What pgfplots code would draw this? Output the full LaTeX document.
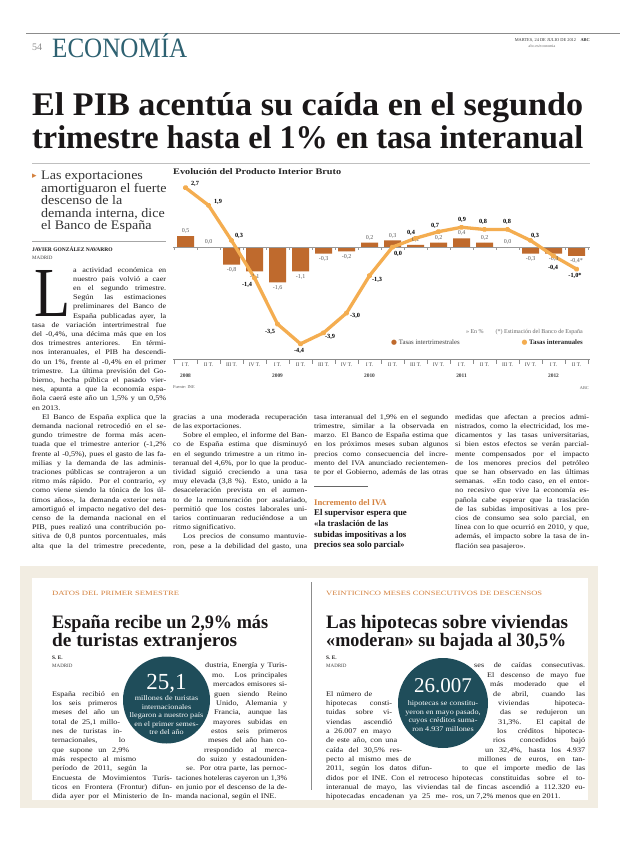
\documentclass[border=0pt]{standalone}
\usepackage{fontspec}
\setmainfont{Liberation Serif}
\newfontfamily\bodyff[FakeStretch=1.15]{Liberation Serif}
\newfontfamily\deckff[FakeStretch=1.08]{Liberation Serif}
\newfontfamily\djv{DejaVu Sans}
\usepackage{graphicx}
\usepackage{xcolor}
\usepackage{pgfplots}
\pgfplotsset{compat=1.18}
\definecolor{txt}{HTML}{1A1718}
\definecolor{barc}{HTML}{BF6A2D}
\definecolor{linec}{HTML}{F4AD50}
\definecolor{circ}{HTML}{1F4D5A}
\definecolor{orh}{HTML}{D4813E}
\definecolor{hdr}{HTML}{2E6171}
\definecolor{beige}{HTML}{F2EDE2}
\newlength\LW
\newcommand\bodyfont{\bodyff\fontsize{7.1bp}{9bp}\selectfont}
\newcommand\jbox[1]{\setbox0\hbox{\bodyfont #1}\ifdim\wd0>\LW\resizebox{\LW}{\height}{\bodyfont #1}\else\hbox to\LW{\bodyfont #1}\fi}
\newcommand\ebox[1]{\setbox0\hbox{\bodyfont #1}\ifdim\wd0>\LW\resizebox{\LW}{\height}{\bodyfont #1}\else\box0\fi}
\newcommand\J[4]{\setlength\LW{\dimexpr #2bp-#1bp\relax}\node[anchor=base west,inner sep=0pt,text=txt] at (#1,{#3}) {\jbox{#4}};}
\newcommand\E[4]{\setlength\LW{\dimexpr #2bp-#1bp\relax}\node[anchor=base west,inner sep=0pt,text=txt] at (#1,{#3}) {\ebox{#4}};}
\newcommand\ya[1]{272+(#1-1)*9.2}
\newcommand\yb[1]{696+(#1-1)*9.34}
\begin{document}
\begin{tikzpicture}
\begin{scope}[x=1bp,y=-1bp]
\useasboundingbox (0,0) rectangle (620,846);
\fill[white] (0,0) rectangle (620,846);
% header
\draw[black!45,line width=0.8bp] (26,33) -- (620,33);
\node[anchor=base west,inner sep=0pt,text=black!45] at (32,50) {\fontsize{10bp}{10bp}\selectfont 54};
\node[anchor=base west,inner sep=0pt,text=hdr] at (52,57) {\resizebox{135bp}{\height}{\fontsize{28bp}{28bp}\selectfont ECONOMÍA}};
\node[anchor=base east,inner sep=0pt,text=black!80] at (590,41) {\fontsize{4.4bp}{5bp}\selectfont MARTES, 24 DE JULIO DE 2012\quad\textbf{ABC}};
\node[anchor=base,inner sep=0pt,text=black!60] at (542,47) {\fontsize{4bp}{5bp}\selectfont abc.es/economia};
% headline
\node[anchor=base west,inner sep=0pt,text=txt] at (32,115) {\resizebox{551bp}{\height}{\fontsize{33bp}{33bp}\selectfont\bfseries El PIB acentúa su caída en el segundo}};
\node[anchor=base west,inner sep=0pt,text=txt] at (32,148) {\resizebox{551bp}{\height}{\fontsize{33bp}{33bp}\selectfont\bfseries trimestre hasta el 1\% en tasa interanual}};
\draw[black!25,line width=0.4bp] (32,163) -- (590,163);
% deck
\node[anchor=base west,inner sep=0pt,text=orh] at (32,178.5) {\djv\fontsize{9bp}{9bp}\selectfont ▸};
\foreach \t/\yy in {Las exportaciones/179,amortiguaron el fuerte/192,descenso de la/204.5,{demanda interna, dice}/217,el Banco de España/229.5}
  \node[anchor=base west,inner sep=0pt,text=black!80] at (41,\yy) {\deckff\fontsize{13bp}{13bp}\selectfont \t};
\draw[black!35,line width=0.5bp] (32,241) -- (166,241);
\node[anchor=base west,inner sep=0pt,text=txt] at (32,251) {\fontsize{5.5bp}{6bp}\selectfont\bfseries JAVIER GONZÁLEZ NAVARRO};
\node[anchor=base west,inner sep=0pt,text=black!75] at (32,259) {\fontsize{5bp}{6bp}\selectfont MADRID};
\node[anchor=base west,inner sep=0pt,text=txt] at (34,316) {\resizebox{36bp}{46bp}{\fontsize{10bp}{10bp}\selectfont L}};
% col 1
\J{73}{166}{\ya{1}}{a actividad económica en}
\J{73}{166}{\ya{2}}{nuestro país volvió a caer}
\J{73}{166}{\ya{3}}{en el segundo trimestre.}
\J{73}{166}{\ya{4}}{Según las estimaciones}
\J{73}{166}{\ya{5}}{preliminares del Banco de}
\J{73}{166}{\ya{6}}{España publicadas ayer, la}
\J{32}{166}{\ya{7}}{tasa de variación intertrimestral fue}
\J{32}{166}{\ya{8}}{del -0,4\%, una décima más que en los}
\J{32}{166}{\ya{9}}{dos trimestres anteriores. En térmi-}
\J{32}{166}{\ya{10}}{nos interanuales, el PIB ha descendi-}
\J{32}{166}{\ya{11}}{do un 1\%, frente al -0,4\% en el primer}
\J{32}{166}{\ya{12}}{trimestre. La última previsión del Go-}
\J{32}{166}{\ya{13}}{bierno, hecha pública el pasado vier-}
\J{32}{166}{\ya{14}}{nes, apunta a que la economía espa-}
\J{32}{166}{\ya{15}}{ñola caerá este año un 1,5\% y un 0,5\%}
\E{32}{166}{\ya{16}}{en 2013.}
\J{42}{166}{\ya{17}}{El Banco de España explica que la}
\J{32}{166}{\ya{18}}{demanda nacional retrocedió en el se-}
\J{32}{166}{\ya{19}}{gundo trimestre de forma más acen-}
\J{32}{166}{\ya{20}}{tuada que el trimestre anterior (-1,2\%}
\J{32}{166}{\ya{21}}{frente al -0,5\%), pues el gasto de las fa-}
\J{32}{166}{\ya{22}}{milias y la demanda de las adminis-}
\J{32}{166}{\ya{23}}{traciones públicas se contrajeron a un}
\J{32}{166}{\ya{24}}{ritmo más rápido. Por el contrario, «y}
\J{32}{166}{\ya{25}}{como viene siendo la tónica de los úl-}
\J{32}{166}{\ya{26}}{timos años», la demanda exterior neta}
\J{32}{166}{\ya{27}}{amortiguó el impacto negativo del des-}
\J{32}{166}{\ya{28}}{censo de la demanda nacional en el}
\J{32}{166}{\ya{29}}{PIB, pues realizó una contribución po-}
\J{32}{166}{\ya{30}}{sitiva de 0,8 puntos porcentuales, más}
\J{32}{166}{\ya{31}}{alta que la del trimestre precedente,}
% col 2
\J{173}{307}{\ya{17}}{gracias a una moderada recuperación}
\E{173}{307}{\ya{18}}{de las exportaciones.}
\J{183}{307}{\ya{19}}{Sobre el empleo, el informe del Ban-}
\J{173}{307}{\ya{20}}{co de España estima que disminuyó}
\J{173}{307}{\ya{21}}{en el segundo trimestre a un ritmo in-}
\J{173}{307}{\ya{22}}{teranual del 4,6\%, por lo que la produc-}
\J{173}{307}{\ya{23}}{tividad siguió creciendo a una tasa}
\J{173}{307}{\ya{24}}{muy elevada (3,8 \%). Esto, unido a la}
\J{173}{307}{\ya{25}}{desaceleración prevista en el aumen-}
\J{173}{307}{\ya{26}}{to de la remuneración por asalariado,}
\J{173}{307}{\ya{27}}{permitió que los costes laborales uni-}
\J{173}{307}{\ya{28}}{tarios continuaran reduciéndose a un}
\E{173}{307}{\ya{29}}{ritmo significativo.}
\J{183}{307}{\ya{30}}{Los precios de consumo mantuvie-}
\J{173}{307}{\ya{31}}{ron, pese a la debilidad del gasto, una}
% col 3
\J{314}{448}{\ya{17}}{tasa interanual del 1,9\% en el segundo}
\J{314}{448}{\ya{18}}{trimestre, similar a la observada en}
\J{314}{448}{\ya{19}}{marzo. El Banco de España estima que}
\J{314}{448}{\ya{20}}{en los próximos meses suban algunos}
\J{314}{448}{\ya{21}}{precios como consecuencia del incre-}
\J{314}{448}{\ya{22}}{mento del IVA anunciado recientemen-}
\J{314}{448}{\ya{23}}{te por el Gobierno, además de las otras}
\draw[black!60,line width=0.6bp] (314,486) -- (368,486);
\node[anchor=base west,inner sep=0pt,text=orh] at (314,505) {\fontsize{8.6bp}{9bp}\selectfont\bfseries Incremento del IVA};
\foreach \t/\yy in {El supervisor espera que/515.5,«la traslación de las/526.3,subidas impositivas a los/537.1,precios sea solo parcial»/547.9}
  \node[anchor=base west,inner sep=0pt,text=txt] at (314,\yy) {\fontsize{8.8bp}{9bp}\selectfont\bfseries \t};
% col 4
\J{455}{589}{\ya{17}}{medidas que afectan a precios admi-}
\J{455}{589}{\ya{18}}{nistrados, como la electricidad, los me-}
\J{455}{589}{\ya{19}}{dicamentos y las tasas universitarias,}
\J{455}{589}{\ya{20}}{si bien estos efectos se verán parcial-}
\J{455}{589}{\ya{21}}{mente compensados por el impacto}
\J{455}{589}{\ya{22}}{de los menores precios del petróleo}
\J{455}{589}{\ya{23}}{que se han observado en las últimas}
\J{455}{589}{\ya{24}}{semanas. «En todo caso, en el entor-}
\J{455}{589}{\ya{25}}{no recesivo que vive la economía es-}
\J{455}{589}{\ya{26}}{pañola cabe esperar que la traslación}
\J{455}{589}{\ya{27}}{de las subidas impositivas a los pre-}
\J{455}{589}{\ya{28}}{cios de consumo sea solo parcial, en}
\J{455}{589}{\ya{29}}{línea con lo que ocurrió en 2010, y que,}
\J{455}{589}{\ya{30}}{además, el impacto sobre la tasa de in-}
\E{455}{589}{\ya{31}}{flación sea pasajero».}
% chart texts
\node[anchor=base west,inner sep=0pt,text=black!85] at (173,174) {\resizebox{168bp}{\height}{\fontsize{8.6bp}{9bp}\selectfont\bfseries Evolución del Producto Interior Bruto}};
\node[anchor=base east,inner sep=0pt,text=black!60] at (583,333) {\fontsize{6bp}{6bp}\selectfont » En \%\qquad (*) Estimación del Banco de España};
\node[anchor=base west,inner sep=0pt,text=black!75] at (391,344) {\fontsize{6.8bp}{7bp}\selectfont{\djv\textcolor{barc}{●}}\ Tasas intertrimestrales};
\node[anchor=base east,inner sep=0pt,text=black!85] at (583,344) {\fontsize{6.8bp}{7bp}\selectfont{\djv\textcolor{linec}{●}}\ \textbf{Tasas interanuales}};
\node[anchor=base west,inner sep=0pt,text=black!65] at (173,388) {\fontsize{4.3bp}{5bp}\selectfont Fuente: INE};
\node[anchor=base east,inner sep=0pt,text=black!65] at (589,389) {\fontsize{4.3bp}{5bp}\selectfont ABC};
% bottom boxes
\fill[beige] (20,566) rectangle (598,808);
\fill[white] (32,578) rectangle (588,800);
\draw[black!45,line width=1bp] (311,582) -- (311,790);
\node[anchor=base west,inner sep=0pt,text=orh] at (52,595) {\resizebox{127bp}{\height}{\fontsize{6.5bp}{7bp}\selectfont DATOS DEL PRIMER SEMESTRE}};
\node[anchor=base west,inner sep=0pt,text=orh] at (326,595) {\resizebox{216bp}{\height}{\fontsize{6.5bp}{7bp}\selectfont VEINTICINCO MESES CONSECUTIVOS DE DESCENSOS}};
\node[anchor=base west,inner sep=0pt,text=txt] at (52,628) {\resizebox{216bp}{\height}{\fontsize{19bp}{19bp}\selectfont\bfseries España recibe un 2,9\% más}};
\node[anchor=base west,inner sep=0pt,text=txt] at (52,646) {\resizebox{185bp}{\height}{\fontsize{19bp}{19bp}\selectfont\bfseries de turistas extranjeros}};
\node[anchor=base west,inner sep=0pt,text=txt] at (326,628) {\resizebox{242bp}{\height}{\fontsize{19bp}{19bp}\selectfont\bfseries Las hipotecas sobre viviendas}};
\node[anchor=base west,inner sep=0pt,text=txt] at (326,646) {\resizebox{240bp}{\height}{\fontsize{19bp}{19bp}\selectfont\bfseries «moderan» su bajada al 30,5\%}};
\foreach \xx in {52,326}{
  \node[anchor=base west,inner sep=0pt,text=txt] at (\xx,659) {\fontsize{5.3bp}{6bp}\selectfont\bfseries S. E.};
  \node[anchor=base west,inner sep=0pt,text=black!75] at (\xx,667) {\fontsize{5bp}{6bp}\selectfont MADRID};
}
\fill[circ] (166.5,700) circle[radius=43.5];
\node[anchor=base,inner sep=0pt,text=white] at (166.5,689) {\fontsize{23bp}{23bp}\selectfont 25,1};
\foreach \t/\yy in {millones de turistas/700.5,internacionales/709,llegaron a nuestro país/717.5,en el primer semes-/726,tre del año/734.5}
  \node[anchor=base,inner sep=0pt,text=white] at (166.5,\yy) {\bodyfont \t};
\fill[circ] (443,703) circle[radius=45];
\node[anchor=base,inner sep=0pt,text=white] at (443,692) {\fontsize{21bp}{21bp}\selectfont 26.007};
\foreach \t/\yy in {hipotecas se constitu-/705,{yeron en mayo pasado,}/714,cuyos créditos suma-/722.5,ron 4.937 millones/731}
  \node[anchor=base,inner sep=0pt,text=white] at (443,\yy) {\bodyfont \t};
% left box text
\J{52}{119}{\yb{1}}{España recibió en}
\J{52}{117}{\yb{2}}{los seis primeros}
\J{52}{119}{\yb{3}}{meses del año un}
\J{52}{120}{\yb{4}}{total de 25,1 millo-}
\J{52}{122}{\yb{5}}{nes de turistas in-}
\J{52}{125}{\yb{6}}{ternacionales, lo}
\J{52}{129}{\yb{7}}{que supone un 2,9\%}
\J{52}{136}{\yb{8}}{más respecto al mismo}
\J{52}{147}{\yb{9}}{período de 2011, según la}
\J{52}{172}{\yb{10}}{Encuesta de Movimientos Turís-}
\J{52}{172}{\yb{11}}{ticos en Frontera (Frontur) difun-}
\J{52}{172}{\yb{12}}{dida ayer por el Ministerio de In-}
\J{205}{287}{\yb{-2}}{dustria, Energía y Turis-}
\J{212}{287}{\yb{-1}}{mo. Los principales}
\J{213}{287}{\yb{0}}{mercados emisores si-}
\J{214}{287}{\yb{1}}{guen siendo Reino}
\J{216}{287}{\yb{2}}{Unido, Alemania y}
\J{214}{287}{\yb{3}}{Francia, aunque las}
\J{213}{287}{\yb{4}}{mayores subidas en}
\J{211}{287}{\yb{5}}{estos seis primeros}
\J{208}{287}{\yb{6}}{meses del año han co-}
\J{204}{287}{\yb{7}}{rrespondido al merca-}
\J{197}{287}{\yb{8}}{do suizo y estadouniden-}
\J{186}{287}{\yb{9}}{se. Por otra parte, las pernoc-}
\J{176}{287}{\yb{10}}{taciones hoteleras cayeron un 1,3\%}
\J{176}{287}{\yb{11}}{en junio por el descenso de la de-}
\E{176}{287}{\yb{12}}{manda nacional, según el INE.}
% right box text
\J{326}{372}{\yb{1}}{El número de}
\J{326}{392}{\yb{2}}{hipotecas consti-}
\J{326}{392}{\yb{3}}{tuidas sobre vi-}
\J{326}{392}{\yb{4}}{viendas ascendió}
\J{326}{391}{\yb{5}}{a 26.007 en mayo}
\J{326}{397}{\yb{6}}{de este año, con una}
\J{326}{402}{\yb{7}}{caída del 30,5\% res-}
\J{326}{411}{\yb{8}}{pecto al mismo mes de}
\J{326}{432}{\yb{9}}{2011, según los datos difun-}
\J{326}{448}{\yb{10}}{didos por el INE. Con el retroceso}
\J{326}{448}{\yb{11}}{interanual de mayo, las viviendas}
\J{326}{448}{\yb{12}}{hipotecadas encadenan ya 25 me-}
\J{474}{585}{\yb{-2}}{ses de caídas consecutivas.}
\J{487}{585}{\yb{-1}}{El descenso de mayo fue}
\J{490}{585}{\yb{0}}{más moderado que el}
\J{493}{585}{\yb{1}}{de abril, cuando las}
\J{498}{585}{\yb{2}}{viviendas hipoteca-}
\J{500}{585}{\yb{3}}{das se redujeron un}
\J{498}{585}{\yb{4}}{31,3\%. El capital de}
\J{497}{585}{\yb{5}}{los créditos hipoteca-}
\J{493}{585}{\yb{6}}{rios concedidos bajó}
\J{485}{585}{\yb{7}}{un 32,4\%, hasta los 4.937}
\J{478}{585}{\yb{8}}{millones de euros, en tan-}
\J{462}{585}{\yb{9}}{to que el importe medio de las}
\J{452}{585}{\yb{10}}{hipotecas constituidas sobre el to-}
\J{452}{585}{\yb{11}}{tal de fincas ascendió a 112.320 eu-}
\E{452}{585}{\yb{12}}{ros, un 7,2\% menos que en 2011.}
\end{scope}
% ---------- chart ----------
\begin{axis}[
  at={(173bp,-359bp)}, anchor=south west,
  width=417bp, height=181bp, scale only axis,
  xmin=-0.5435, xmax=17.587, ymin=-5.09, ymax=3.14,
  axis x line*=bottom, axis y line=none, ytick=\empty,
  x axis line style={draw=black!45, line width=0.6bp},
  xtick={0,...,17},
  xticklabels={{I T.\\\textbf{2008}},II T.,III T.,IV T.,{I T.\\\textbf{2009}},II T.,III T.,IV T.,{I T.\\\textbf{2010}},II T.,III T.,IV T.,{I T.\\\textbf{2011}},II T.,III T.,IV T.,{I T.\\\textbf{2012}},II T.},
  xticklabel style={align=center, font=\fontsize{5.4bp}{11.5bp}\selectfont, text=black!75, inner sep=0pt, yshift=-3.5bp},
  major tick length=0pt, minor tick length=4.5bp,
  minor xtick={-0.5,0.5,...,17.5},
  tick align=outside,
  minor tick style={draw=black!45, line width=0.5bp},
  clip=false,
]
\addplot[ybar, bar width=17bp, fill=barc, draw=none] table[x=x,y=y] {
x y
0 0.5
1 0.0
2 -0.8
3 -1.1
4 -1.6
5 -1.1
6 -0.3
7 -0.2
8 0.2
9 0.3
10 0.1
11 0.2
12 0.4
13 0.2
14 0.0
15 -0.3
16 -0.3
17 -0.4
};
\draw[black!40, line width=0.5bp] (axis cs:-0.5435,0) -- (axis cs:17.587,0);
\pgfplotsinvokeforeach{-0.5,0.5,...,17.5}{\draw[black!40,line width=0.5bp] (axis cs:#1,0) -- (axis cs:#1,-0.14);}
\addplot[only marks, mark=*, mark size=0pt, mark options={draw=none,fill=none},
  point meta=explicit symbolic, nodes near coords,
  visualization depends on={value \thisrow{dy}\as\ldy},
  every node near coord/.append style={anchor=center, yshift=\ldy bp, font=\fontsize{6bp}{6bp}\selectfont, text=black!65, inner sep=0pt}]
  table[x=x,y=y,meta=lab] {
x y lab dy
0 0.5 0,5 5
1 0.0 0,0 5
2 -0.8 -0,8 -5.5
3 -1.1 -1,1 -5.5
4 -1.6 -1,6 -5.5
5 -1.1 -1,1 -5.5
6 -0.3 -0,3 -5.5
7 -0.2 -0,2 -5.5
8 0.2 0,2 5
9 0.3 0,3 5
10 0.1 0,1 5
11 0.2 0,2 5
12 0.4 0,4 5
13 0.2 0,2 5
14 0.0 0,0 5
15 -0.3 -0,3 -5.5
16 -0.3 -0,3 -5.5
17 -0.4 -0,4* -5.5
};
\addplot[draw=linec, line width=3.3bp, line join=round, line cap=round, mark=*, mark size=1.1bp, mark options={fill=white, draw=none}] table[x=x,y=y] {
x y
0 2.7
1 1.9
2 0.3
3 -1.4
4 -3.5
5 -4.4
6 -3.9
7 -3.0
8 -1.3
9 0.0
10 0.4
11 0.7
12 0.9
13 0.8
14 0.8
15 0.3
16 -0.4
17 -1.0
};
\addplot[only marks, mark=*, mark size=0pt, mark options={draw=none,fill=none},
  point meta=explicit symbolic, nodes near coords,
  visualization depends on={value \thisrow{dx}\as\ldx},
  visualization depends on={value \thisrow{dy}\as\ldy},
  every node near coord/.append style={anchor=center, xshift=\ldx bp, yshift=\ldy bp, font=\fontsize{6.3bp}{6.3bp}\selectfont\bfseries, text=black, inner sep=0pt}]
  table[x=x,y=y,meta=lab] {
x y lab dx dy
0 2.7 2,7 9.5 4
1 1.9 1,9 9.5 3.2
2 0.3 0,3 7.5 4.4
3 -1.4 -1,4 -7.5 -7.2
4 -3.5 -3,5 -7.5 -8
5 -4.4 -4,4 -1.5 -7.2
6 -3.9 -3,9 6.5 -4.2
7 -3.0 -3,0 8.5 -3
8 -1.3 -1,3 7.5 -4.4
9 0.0 0,0 5.5 -7
10 0.4 0,4 -4.5 5.2
11 0.7 0,7 -3.5 5.6
12 0.9 0,9 0.5 7.2
13 0.8 0,8 -1.5 7.4
14 0.8 0,8 -0.5 7.4
15 0.3 0,3 4.5 4.4
16 -0.4 -0,4 -0.5 -12.2
17 -1.0 -1,0* -1.5 -7
};
\end{axis}
\end{tikzpicture}
\end{document}
